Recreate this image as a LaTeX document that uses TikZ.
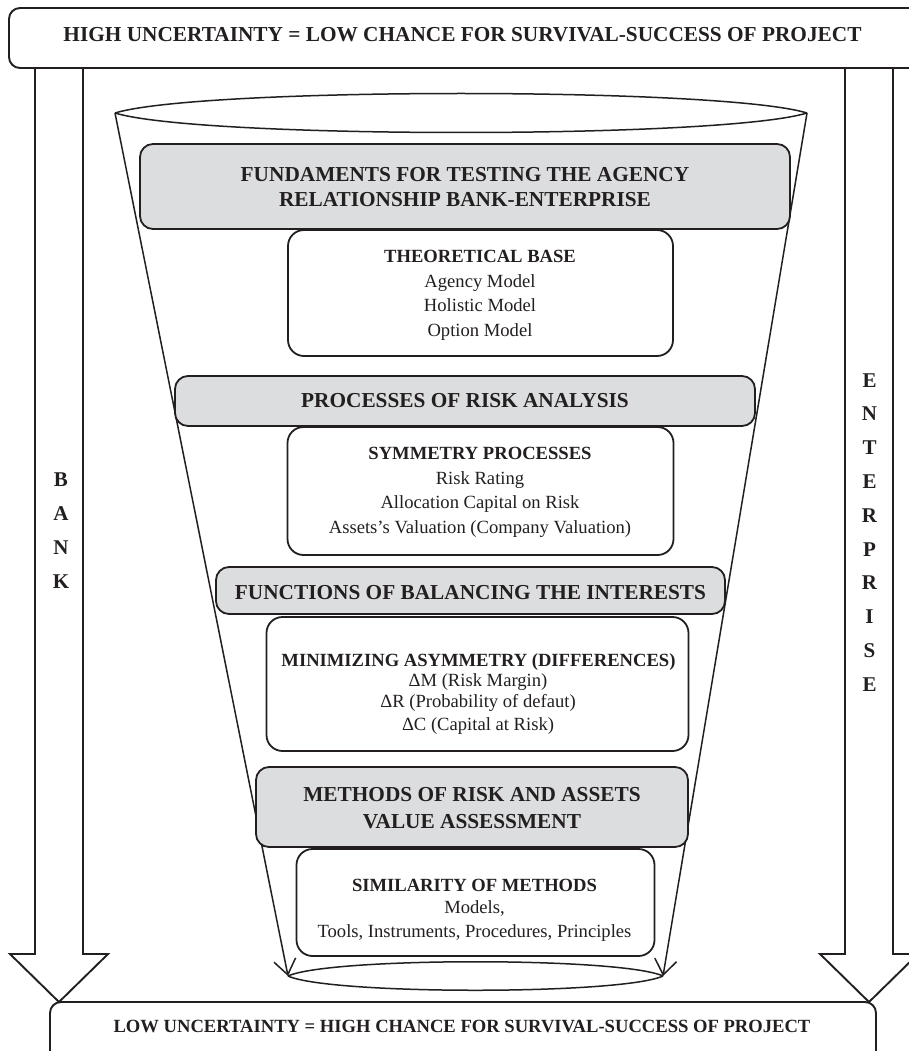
\documentclass[tikz,border=0pt]{standalone}
\usepackage{fontspec}
\setmainfont{Liberation Serif}
\usetikzlibrary{arrows.meta}
\definecolor{ink}{HTML}{231F20}
\definecolor{boxgray}{HTML}{DCDDDE}
\begin{document}
\begin{tikzpicture}[x=1pt,y=-1pt,line join=round,
  bigarrow/.style={draw=ink,line width=1.9pt,fill=white,line join=miter},
  banner/.style={draw=ink,line width=1.9pt,fill=white,rounded corners=11pt,inner sep=0pt},
  hbox/.style={draw=ink,line width=1.8pt,fill=boxgray,rounded corners=13pt,inner sep=0pt},
  wbox/.style={draw=ink,line width=1.8pt,fill=white,rounded corners=16pt,inner sep=0pt},
  funnel/.style={draw=ink,line width=1.5pt},
  funarrow/.style={draw=ink,line width=1.5pt,-{Straight Barb[length=15pt,width=22pt,line width=1.5pt]}},
  bantext/.style={text=ink,font=\bfseries\fontsize{21.3}{25}\selectfont,anchor=base,inner sep=0pt},
  bottext/.style={text=ink,font=\bfseries\fontsize{18.6}{22}\selectfont,anchor=base,inner sep=0pt},
  htext/.style={text=ink,font=\bfseries\fontsize{21.3}{25}\selectfont,anchor=base,inner sep=0pt},
  ttext/.style={text=ink,font=\bfseries\fontsize{18.6}{22}\selectfont,anchor=base,inner sep=0pt},
  ltext/.style={text=ink,font=\fontsize{18.6}{22}\selectfont,anchor=base,inner sep=0pt},
  side/.style={text=ink,font=\bfseries\fontsize{21}{25}\selectfont,anchor=base,inner sep=0pt}]
\useasboundingbox (0,0) rectangle (909,1051);
\fill[white] (0,0) rectangle (909,1051);

% big side arrows
\draw[bigarrow] (35,60) -- (35,954) -- (10,954) -- (59,1002) -- (108,954) -- (83,954) -- (83,60);
\draw[bigarrow] (845,60) -- (845,954) -- (820,954) -- (869,1002) -- (918,954) -- (893,954) -- (893,60);

% banners
\node[banner,minimum width=918pt,minimum height=60pt] (topban) at (468,38) {};
\node[bantext] (toptxt) at (462.5,41.7) {HIGH UNCERTAINTY = LOW CHANCE FOR SURVIVAL-SUCCESS OF PROJECT};
\node[banner,minimum width=826pt,minimum height=70pt] (botban) at (463,1037) {};
\node[bottext] (bottxt) at (462,1032.3) {LOW UNCERTAINTY = HIGH CHANCE FOR SURVIVAL-SUCCESS OF PROJECT};

% side letters
\foreach \l [count=\i] in {B,A,N,K}
  \node[side] (bank\i) at (61,{486.7+33.8*(\i-1)}) {\l};
\foreach \l [count=\i] in {E,N,T,E,R,P,R,I,S,E}
  \node[side] (ent\i) at (869.5,{387+33.8*(\i-1)}) {\l};

% funnel
\coordinate (tl) at (115,113);
\coordinate (tr) at (807,113);
\coordinate (bl) at (288,976);
\coordinate (br) at (663,976);
\draw[funarrow] (tl) -- (bl);
\draw[funarrow] (tr) -- (br);
\draw[funnel] (tl) .. controls (200,87) and (722,87) .. (tr);
\draw[funnel] (tr) .. controls (722,139) and (200,139) .. (tl);
\draw[funnel] (bl) .. controls (330,957) and (621,957) .. (br);
\draw[funnel] (br) .. controls (621,995) and (330,995) .. (bl);

% box 1
\node[hbox,minimum width=650pt,minimum height=85pt] (b1) at (465,186.5) {};
\node[htext] (b1a) at (465,181.7) {FUNDAMENTS FOR TESTING THE AGENCY};
\node[htext] (b1b) at (465,206.7) {RELATIONSHIP BANK-ENTERPRISE};
% box 2
\node[wbox,minimum width=385pt,minimum height=126pt] (b2) at (480.5,293) {};
\node[ttext] (b2a) at (480,262.7) {THEORETICAL BASE};
\node[ltext] (b2b) at (480,287.3) {Agency Model};
\node[ltext] (b2c) at (480,311.7) {Holistic Model};
\node[ltext] (b2d) at (480,336.7) {Option Model};
% box 3
\node[hbox,minimum width=580pt,minimum height=50pt] (b3) at (465,401) {};
\node[htext] (b3a) at (465,407.7) {PROCESSES OF RISK ANALYSIS};
% box 4
\node[wbox,minimum width=386pt,minimum height=128pt] (b4) at (480.5,491) {};
\node[ttext] (b4a) at (480,459.3) {SYMMETRY PROCESSES};
\node[ltext] (b4b) at (480,484) {Risk Rating};
\node[ltext] (b4c) at (480,508.3) {Allocation Capital on Risk};
\node[ltext] (b4d) at (480,533.3) {Assets’s Valuation (Company Valuation)};
% box 5
\node[hbox,minimum width=509pt,minimum height=47pt] (b5) at (470.5,590.5) {};
\node[htext] (b5a) at (470.5,599.3) {FUNCTIONS OF BALANCING THE INTERESTS};
% box 6
\node[wbox,minimum width=422pt,minimum height=134pt] (b6) at (477.5,684) {};
\node[ttext] (b6a) at (478.5,666) {MINIMIZING ASYMMETRY (DIFFERENCES)};
\node[ltext] (b6b) at (478,686.7) {ΔM (Risk Margin)};
\node[ltext] (b6c) at (478,707.3) {ΔR (Probability of defaut)};
\node[ltext] (b6d) at (478,730.7) {ΔC (Capital at Risk)};
% box 7
\node[hbox,minimum width=432pt,minimum height=80pt] (b7) at (472,807) {};
\node[htext] (b7a) at (472,801) {METHODS OF RISK AND ASSETS};
\node[htext] (b7b) at (472,828.3) {VALUE ASSESSMENT};
% box 8
\node[wbox,minimum width=358pt,minimum height=107pt] (b8) at (475.5,902.5) {};
\node[ttext] (b8a) at (474.5,891.7) {SIMILARITY OF METHODS};
\node[ltext] (b8b) at (474.5,913.3) {Models,};
\node[ltext] (b8c) at (474.5,937.3) {Tools, Instruments, Procedures, Principles};
\end{tikzpicture}
\end{document}
